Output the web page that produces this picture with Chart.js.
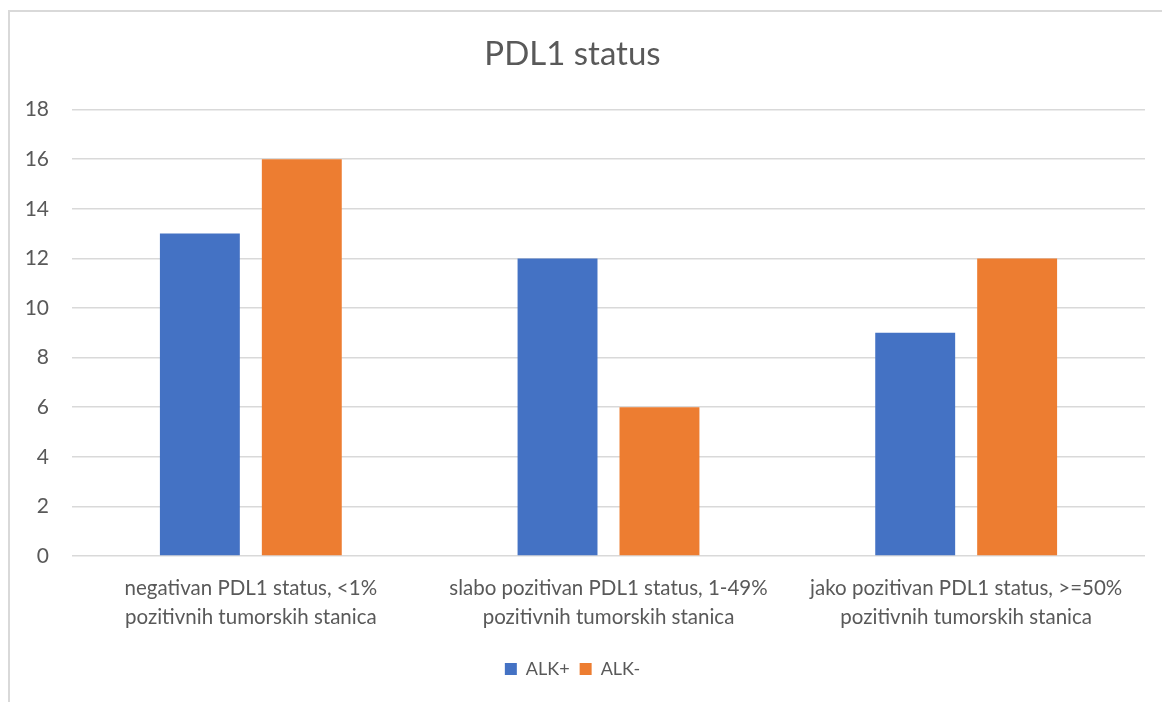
<!DOCTYPE html>
<html>
<head>
<meta charset="utf-8">
<script src="https://cdn.jsdelivr.net/npm/chart.js@4.4.0/dist/chart.umd.min.js"></script>
<style>
html,body{margin:0;padding:0;background:#fff;}
#wrap{position:relative;width:1162px;height:702px;overflow:hidden;}
#frame{position:absolute;left:8px;top:10px;width:1200px;height:760px;border:2px solid #d9d9d9;box-sizing:border-box;}
canvas{position:absolute;left:0;top:0;}
</style>
</head>
<body>
<div id="wrap"><div id="frame"></div><canvas id="c" width="1162" height="702"></canvas></div>
<script>
const chartTitle = "PDL1 status";
const categories = [
  ["negativan PDL1 status, <1%", "pozitivnih tumorskih stanica"],
  ["slabo pozitivan PDL1 status, 1-49%", "pozitivnih tumorskih stanica"],
  ["jako pozitivan PDL1 status, >=50%", "pozitivnih tumorskih stanica"]
];
const seriesNames = ["ALK+", "ALK-"];
const alkPlus = [13, 12, 9];
const alkMinus = [16, 6, 12];
const yMin = 0, yMax = 18, yStep = 2;

const FONT = "Lato, 'Open Sans', sans-serif";
const TXT = "#595959";

new Chart(document.getElementById('c'), {
  type: 'bar',
  data: {
    labels: categories,
    datasets: [
      {label: seriesNames[0], data: alkPlus, backgroundColor: '#4472C4', categoryPercentage: 0.57, barPercentage: 0.784},
      {label: seriesNames[1], data: alkMinus, backgroundColor: '#ED7D31', categoryPercentage: 0.57, barPercentage: 0.784}
    ]
  },
  options: {
    responsive: false,
    animation: false,
    events: [],
    layout: {padding: {left: 0, right: 17, top: 20, bottom: 14}},
    plugins: {
      title: {display: true, text: chartTitle, color: TXT,
        font: {family: FONT, size: 33, weight: 'normal'}, padding: {top: 15, bottom: 35}},
      legend: {position: 'bottom',
        labels: {color: TXT, font: {family: FONT, size: 18}, boxWidth: 12, boxHeight: 12, padding: 10}},
      tooltip: {enabled: false}
    },
    scales: {
      x: {
        grid: {display: false, drawTicks: false},
        border: {display: false},
        ticks: {color: TXT, font: {family: FONT, size: 20.5, lineHeight: 1.4}, padding: 18, maxRotation: 0, autoSkip: false},
        afterFit: s => { s.height = 94; }
      },
      y: {
        min: yMin, max: yMax,
        grid: {color: '#d9d9d9', lineWidth: 1.5, drawTicks: false},
        border: {display: false},
        ticks: {stepSize: yStep, color: TXT, font: {family: FONT, size: 21}, padding: 23},
        afterFit: s => { s.width = 72; }
      }
    }
  }
});
</script>
</body>
</html>
